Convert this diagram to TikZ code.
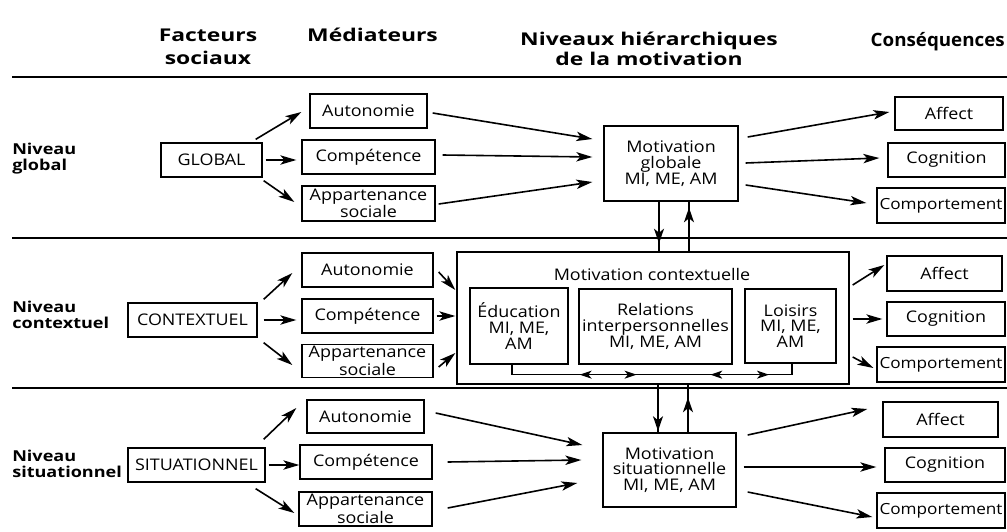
\documentclass[tikz,border=0pt]{standalone}
\usepackage{fontspec}
\setmainfont{Open Sans}[FakeStretch=1.12]
\newfontfamily\hdfont{Open Sans}[FakeStretch=1.3]
\newfontfamily\lvlfont{Open Sans}[FakeStretch=1.2]
\newfontfamily\consfont{Open Sans}[FakeStretch=1.02]
\usetikzlibrary{arrows.meta,calc,decorations.markings}
\begin{document}
\begin{tikzpicture}[x=0.75pt,y=-0.75pt,
  box/.style={draw,line width=1pt,inner xsep=1pt,inner ysep=1pt,align=center,font=\fontsize{12}{11.8}\selectfont},
  sz/.style 2 args={minimum width=#1pt,minimum height=#2pt},
  cpfont/.style={font=\fontsize{11.5}{11.8}\selectfont,inner xsep=0.5pt},
  hd/.style={font=\hdfont\bfseries\fontsize{13.2}{17}\selectfont,align=center,inner sep=0pt},
  lvl/.style={font=\lvlfont\bfseries\fontsize{11.3}{12}\selectfont,align=left,inner sep=0pt,anchor=west},
  arr/.style={line width=1.2pt,-{Stealth[length=12pt,width=7pt,inset=3pt]}},
  rule/.style={line width=1.2pt},
  vtip/.style={line width=1.1pt,postaction={decorate},decoration={markings,mark=at position #1 with {\arrow{Stealth[length=11pt,width=7.5pt,inset=3pt]}}}}
]
\useasboundingbox (0,0) rectangle (1007,532);

% headings
\node[hd] (hfs) at (208,47) {Facteurs\\sociaux};
\node[hd,anchor=base] (hmed) at (372.5,41.5) {Médiateurs};
\node[hd,font=\hdfont\bfseries\fontsize{13.2}{15}\selectfont] (hniv) at (649,48.5) {Niveaux hiérarchiques\\de la motivation};
\node[font=\consfont\bfseries\fontsize{13.8}{15}\selectfont,inner sep=0pt,anchor=base east] (hcons) at (1005,46.5) {Conséquences};

% dividers
\draw[rule] (12,77) -- (1007,77);
\draw[rule] (12,238) -- (1007,238);
\draw[rule] (12,388) -- (1007,388);

% level labels
\node[lvl] (l1) at (12,159) {Niveau\\global};
\node[lvl] (l2) at (12,315) {Niveau\\contextuel};
\node[lvl] (l3) at (12,464) {Niveau\\situationnel};

% social factors
\node[box,sz={75.75}{25.5}] (glob) at (211.5,160) {GLOBAL};
\node[box,sz={96.75}{25.5}] (ctx) at (192.5,320) {CONTEXTUEL};
\node[box,sz={102.75}{25.5}] (sit) at (196.5,465) {SITUATIONNEL};

% mediators
\node[box,sz={87.75}{25.5}] (a1) at (368.5,111) {Autonomie};
\node[box,sz={99.75}{25.5}] (c1) at (368.5,157) {Compétence};
\node[box,sz={99.75}{26.25}] (p1) at (368.5,203.5) {Appartenance\\sociale};
\node[box,sz={98.25}{25.5}] (a2) at (367.5,270) {Autonomie};
\node[box,sz={98.25}{25.5}] (c2) at (367.5,316) {Compétence};
\node[box,sz={98.25}{24.75}] (p2) at (367.5,361) {Appartenance\\sociale};
\node[box,sz={87.75}{24.75}] (a3) at (365.5,416.5) {Autonomie};
\node[box,sz={99}{25.5}] (c3) at (366,462) {Compétence};
\node[box,sz={99.75}{25.5}] (p3) at (365.5,509) {Appartenance\\sociale};

% motivation
\node[box,sz={100.5}{56.25}] (mg) at (671,163.5) {Motivation\\globale\\MI, ME, AM};
\node[box,sz={294}{99}] (mc) at (653,318) {};
\node[font=\fontsize{12}{12}\selectfont,inner sep=0pt] (mct) at (652,274) {Motivation contextuelle};
\node[box,sz={73.5}{57}] (edu) at (519,326) {Éducation\\MI, ME,\\AM};
\node[box,sz={114.75}{56.25}] (rel) at (655.5,326.5) {Relations\\interpersonnelles\\MI, ME, AM};
\node[box,sz={68.25}{55.5}] (loi) at (790.5,326) {Loisirs\\MI, ME,\\AM};
\node[box,sz={99.75}{55.5}] (ms) at (669.5,470) {Motivation\\situationnelle\\MI, ME, AM};

% consequences
\node[box,sz={81}{24.75}] (af1) at (949,113.5) {Affect};
\node[box,sz={87.75}{25.5}] (cg1) at (946.5,160) {Cognition};
\node[box,cpfont,sz={96}{26.25}] (cp1) at (941,205.5) {Comportement};
\node[box,sz={86.25}{26.25}] (af2) at (944.5,273.5) {Affect};
\node[box,sz={88.5}{25.5}] (cg2) at (946,319) {Cognition};
\node[box,cpfont,sz={96}{26.25}] (cp2) at (941,364.5) {Comportement};
\node[box,sz={86.25}{26.25}] (af3) at (940.5,419.5) {Affect};
\node[box,sz={90}{25.5}] (cg3) at (945,465) {Cognition};
\node[box,cpfont,sz={96}{26.25}] (cp3) at (941,510.5) {Comportement};

% global row
\draw[arr] ($(glob.north east)+(-7,-3)$) -- ($(a1.west)+(-8,1)$);
\draw[arr,shorten <=2.25pt,shorten >=3.75pt] (glob.east) -- (glob.east -| c1.west);
\draw[arr] ($(glob.south east)+(1,3)$) -- ($(p1.west)+(-7,-1.5)$);
\draw[arr] ($(a1.east)+(5,2)$) -- ($(mg.west)+(-11,-24.5)$);
\draw[arr] ($(c1.east)+(7,-2)$) -- ($(mg.west)+(-11,-6.5)$);
\draw[arr] ($(p1.east)+(3,0.5)$) -- ($(mg.west)+(-11,18.5)$);
\draw[arr] ($(mg.east)+(9,-26.5)$) -- ($(af1.west)+(-5,-1.5)$);
\draw[arr] ($(mg.east)+(7,-0.5)$) -- ($(cg1.west)+(-8,-2)$);
\draw[arr] ($(mg.east)+(7,21.5)$) -- ($(cp1.west)+(-10,-2.5)$);

% vertical links
\coordinate (v1) at ($(mg.south)+(-12,0)$);
\coordinate (v2) at ($(mg.south)+(18,0)$);
\coordinate (v3) at ($(ms.north)+(-11.5,0)$);
\coordinate (v4) at ($(ms.north)+(18.5,0)$);
\draw[vtip=0.84] (v1) -- (v1 |- mc.north);
\draw[vtip=0.88] (v2 |- mc.north) -- (v2);
\draw[vtip=0.97] (v3 |- mc.south) -- (v3);
\draw[vtip=0.73] (v4) -- (v4 |- mc.south);

% contextual row
\draw[arr] ($(ctx.north east)+(6,-3)$) -- ($(a2.west)+(-9,3)$);
\draw[arr,shorten <=4.5pt,shorten >=3.75pt] (ctx.east) -- (ctx.east -| c2.west);
\draw[arr] ($(ctx.south east)+(6,5)$) -- ($(p2.west)+(-9,4)$);
\draw[arr] ($(a2.east)+(5,2)$) -- ($(mc.west)+(-1,-28)$);
\draw[arr,shorten <=2.25pt,shorten >=0.75pt] (c2.east) -- (c2.east -| mc.west);
\draw[arr] ($(p2.east)+(5,6)$) -- ($(mc.west)+(-1,35)$);
\draw[arr] ($(mc.east)+(3,-33)$) -- ($(af2.west)+(-2,-8.5)$);
\draw[arr,shorten <=2.25pt,shorten >=3pt] (cg2.west -| mc.east) -- (cg2.west);
\draw[arr] ($(mc.east)+(3,39)$) -- ($(cp2.west)+(-3,3.5)$);

% inner relations connector
\draw[line width=1pt,postaction={decorate},decoration={markings,
  mark=at position 0.258 with {\arrowreversed{Stealth[length=9pt,width=6pt,inset=2.5pt]}},
  mark=at position 0.447 with {\arrow{Stealth[length=9pt,width=6pt,inset=2.5pt]}},
  mark=at position 0.692 with {\arrowreversed{Stealth[length=9pt,width=6pt,inset=2.5pt]}},
  mark=at position 0.887 with {\arrow{Stealth[length=9pt,width=6pt,inset=2.5pt]}}}]
  ($(edu.south)+(-7,0)$) |- ($(loi.south)+(1.5,11)$) -- ($(loi.south)+(1.5,0)$);

% situational row
\draw[arr] ($(sit.north east)+(-2,-8)$) -- ($(a3.west)+(-10,-8.5)$);
\draw[arr,shorten <=2.25pt] (sit.east) -- (sit.east -| c3.west);
\draw[arr] ($(sit.south east)+(-10,6)$) -- ($(p3.west)+(-4,4)$);
\draw[arr] ($(a3.east)+(11,-3.5)$) -- ($(ms.west)+(-20,-25)$);
\draw[arr] ($(c3.east)+(15,0)$) -- ($(ms.west)+(-21,-10)$);
\draw[arr] ($(p3.east)+(15,-1)$) -- ($(ms.west)+(-25,13)$);
\draw[arr] ($(ms.east)+(11,-35)$) -- ($(af3.west)+(-15,-10.5)$);
\draw[arr] ($(ms.east)+(7,-3)$) -- ($(cg3.west)+(-8,2)$);
\draw[arr] ($(ms.east)+(11,22)$) -- ($(cp3.west)+(-4,6.5)$);
\end{tikzpicture}
\end{document}
